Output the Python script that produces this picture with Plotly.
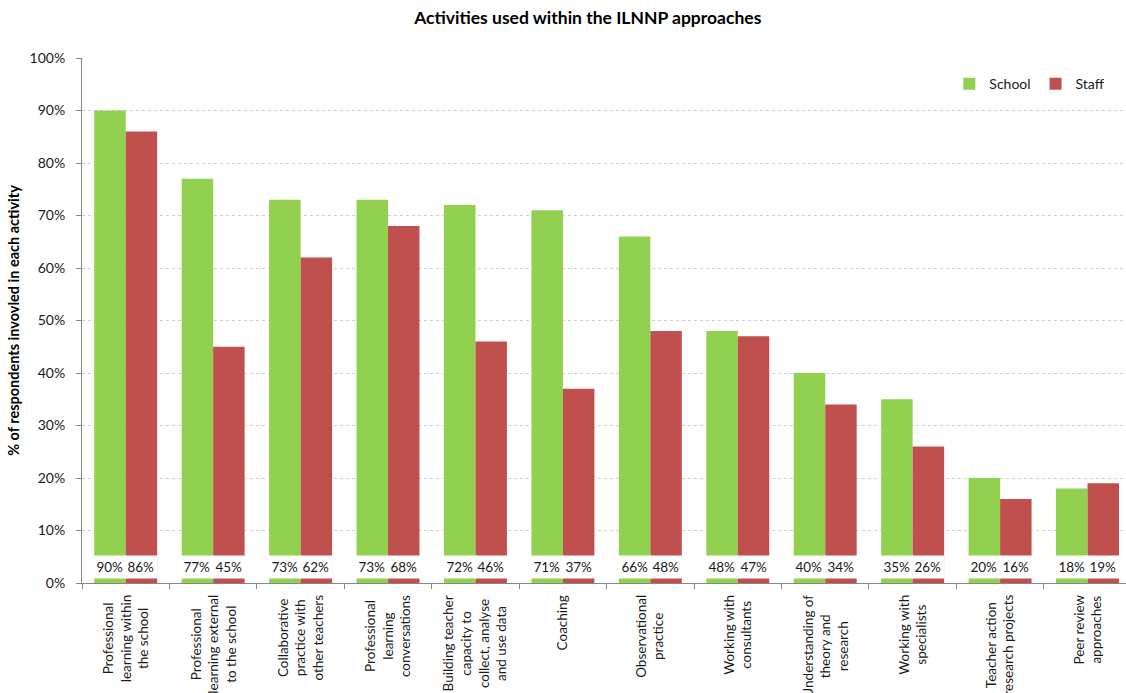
import plotly.graph_objects as go

categories = [
    "Professional learning within the school",
    "Professional learning external to the school",
    "Collaborative practice with other teachers",
    "Professional learning conversations",
    "Building teacher capacity to collect, analyse and use data",
    "Coaching",
    "Observational practice",
    "Working with consultants",
    "Understanding of theory and research",
    "Working with specialists",
    "Teacher action research projects",
    "Peer review approaches",
]
tick_labels = [
    "Professional<br>learning within<br>the school",
    "Professional<br>learning external<br>to the school",
    "Collaborative<br>practice with<br>other teachers",
    "Professional<br>learning<br>conversations",
    "Building teacher<br>capacity to<br>collect, analyse<br>and use data",
    "Coaching",
    "Observational<br>practice",
    "Working with<br>consultants",
    "Understanding of<br>theory and<br>research",
    "Working with<br>specialists",
    "Teacher action<br>research projects",
    "Peer review<br>approaches",
]
school = [90, 77, 73, 73, 72, 71, 66, 48, 40, 35, 20, 18]
staff = [86, 45, 62, 68, 46, 37, 48, 47, 34, 26, 16, 19]

FONT = "Lato"
GREEN = "#92D050"
RED = "#C0504D"
TXT = "#1a1a1a"

fig = go.Figure()
fig.add_trace(go.Bar(x=categories, y=[v / 100 for v in school], name="School",
                     marker=dict(color=GREEN, line=dict(width=0))))
fig.add_trace(go.Bar(x=categories, y=[v / 100 for v in staff], name="Staff",
                     marker=dict(color=RED, line=dict(width=0))))

annotations = []
BAR_PX = 31.5
for cat, s, t, lab in zip(categories, school, staff, tick_labels):
    for val, shift in ((s, -BAR_PX / 2), (t, BAR_PX / 2)):
        annotations.append(dict(
            x=cat, y=0.031, xref="x", yref="y", text=f"{val}%", showarrow=False,
            xshift=shift, bgcolor="white", width=BAR_PX, height=22, borderpad=0,
            font=dict(family=FONT, size=13.5, color=TXT),
        ))
    annotations.append(dict(
        x=cat, y=-0.019, xref="x", yref="paper", text=lab, showarrow=False,
        textangle=-90, xanchor="center", yanchor="top", align="center",
        font=dict(family=FONT, size=13.5, color=TXT),
    ))

fig.update_layout(
    width=1126, height=693,
    margin=dict(l=82, r=0, t=58, b=110),
    paper_bgcolor="white", plot_bgcolor="white",
    font=dict(family=FONT, size=13, color=TXT),
    title=dict(text="<b>Activities used within the ILNNP approaches</b>",
               x=0.522, xref="container", xanchor="center",
               y=0.974, yref="container", yanchor="middle",
               font=dict(family=FONT, size=17.5, color="#000")),
    barmode="group", bargap=0.28, bargroupgap=0,
    showlegend=True,
    legend=dict(orientation="h", x=0.985, xanchor="right", y=0.95, yanchor="middle",
                font=dict(family=FONT, size=14, color=TXT),
                bgcolor="rgba(0,0,0,0)", itemwidth=30, traceorder="normal"),
    annotations=annotations,
    shapes=[dict(type="line", xref="paper", yref="y", x0=0.002, x1=1, y0=1, y1=1,
                 line=dict(color="white", width=3), layer="below")],
)
fig.update_xaxes(
    range=[-0.5, 11.44], showticklabels=False,
    showline=True, linecolor="#868686", linewidth=1,
    ticks="outside", tickson="boundaries", ticklen=5, tickcolor="#868686",
    showgrid=False,
)
fig.update_yaxes(
    range=[0, 1], dtick=0.1, tickformat=".0%",
    showline=True, linecolor="#868686", linewidth=1,
    ticks="outside", ticklen=5, tickcolor="#868686", ticklabelstandoff=8,
    showgrid=True, gridcolor="#D0D0D0", griddash="dot", gridwidth=1,
    zeroline=False,
    tickfont=dict(family=FONT, size=14, color=TXT),
    title=dict(text="<b>% of respondents invovled in each activity</b>",
               font=dict(family=FONT, size=14.5, color="#000"), standoff=6),
)

fig.write_html("out.html")
